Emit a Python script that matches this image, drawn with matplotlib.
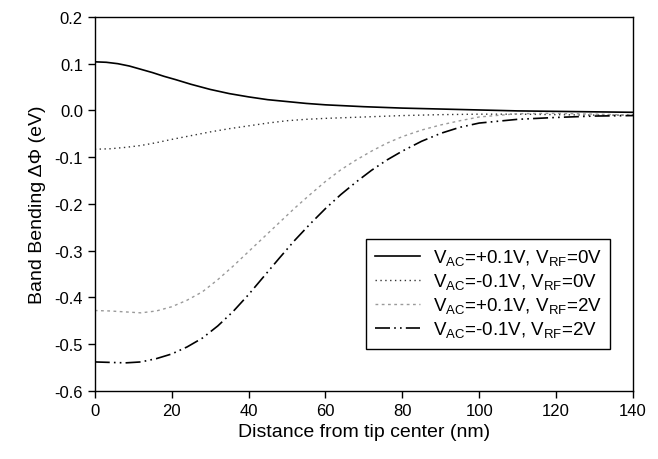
import numpy as np
import matplotlib
matplotlib.use("Agg")
import matplotlib.pyplot as plt

plt.rcParams["font.family"] = ["Liberation Sans", "DejaVu Sans"]
plt.rcParams["mathtext.fontset"] = "custom"
plt.rcParams["mathtext.rm"] = "Liberation Sans"
plt.rcParams["axes.unicode_minus"] = False

# distance from tip center (nm) and band bending (eV)
x_ac_pos = [0, 3, 6, 9, 12, 15, 18, 21, 25, 30, 35, 40, 45, 50, 55, 60, 70, 80, 90, 100,
            110, 120, 130, 140]
y_ac_pos = [0.104, 0.103, 0.100, 0.095, 0.088, 0.081, 0.073, 0.066, 0.056, 0.045, 0.036,
            0.029, 0.023, 0.019, 0.015, 0.012, 0.008, 0.005, 0.003, 0.001, -0.001, -0.002,
            -0.003, -0.004]

x_ac_neg = [0, 4, 8, 12, 16, 20, 25, 30, 35, 40, 45, 50, 55, 60, 70, 80, 90, 100, 110, 120,
            130, 140]
y_ac_neg = [-0.083, -0.082, -0.079, -0.075, -0.069, -0.062, -0.054, -0.046, -0.039, -0.033,
            -0.027, -0.022, -0.019, -0.017, -0.014, -0.011, -0.009, -0.008, -0.008, -0.009,
            -0.010, -0.010]

x_rf_pos = [0, 4, 8, 12, 16, 20, 24, 28, 32, 36, 40, 44, 48, 52, 56, 60, 64, 68, 72, 76,
            80, 85, 90, 95, 100, 110, 120, 130, 140]
y_rf_pos = [-0.428, -0.429, -0.431, -0.433, -0.429, -0.420, -0.406, -0.388, -0.362, -0.333,
            -0.302, -0.271, -0.240, -0.209, -0.180, -0.152, -0.127, -0.106, -0.087, -0.070,
            -0.056, -0.042, -0.031, -0.022, -0.014, -0.007, -0.006, -0.008, -0.010]

x_rf_neg = [0, 4, 8, 12, 16, 20, 24, 28, 32, 36, 40, 44, 48, 52, 56, 60, 64, 68, 72, 76,
            80, 85, 90, 95, 100, 110, 120, 130, 140]
y_rf_neg = [-0.538, -0.539, -0.540, -0.538, -0.531, -0.521, -0.506, -0.487, -0.461, -0.430,
            -0.394, -0.355, -0.316, -0.278, -0.243, -0.210, -0.180, -0.153, -0.128, -0.106,
            -0.087, -0.066, -0.049, -0.036, -0.027, -0.019, -0.015, -0.012, -0.011]

labels = [
    r"V$_{\mathrm{AC}}$=+0.1V, V$_{\mathrm{RF}}$=0V",
    r"V$_{\mathrm{AC}}$=-0.1V, V$_{\mathrm{RF}}$=0V",
    r"V$_{\mathrm{AC}}$=+0.1V, V$_{\mathrm{RF}}$=2V",
    r"V$_{\mathrm{AC}}$=-0.1V, V$_{\mathrm{RF}}$=2V",
]

x_ticks = [0, 20, 40, 60, 80, 100, 120, 140]
y_ticks = [-0.6, -0.5, -0.4, -0.3, -0.2, -0.1, 0.0, 0.1, 0.2]
y_ticklabels = ["-0.6", "-0.5", "-0.4", "-0.3", "-0.2", "-0.1", "0.0", "0.1", "0.2"]

fig = plt.figure(figsize=(6.58, 4.60), dpi=100)
ax = fig.add_axes([0.144, 0.148, 0.818, 0.813])

ax.plot(x_ac_pos, y_ac_pos, color="black", lw=1.2, ls="-", label=labels[0])
ax.plot(x_ac_neg, y_ac_neg, color="#333333", lw=1.0, ls=(0, (1, 2.5)), label=labels[1])
ax.plot(x_rf_pos, y_rf_pos, color="#9a9a9a", lw=1.0, ls=(0, (2, 2.5)), label=labels[2])
ax.plot(x_rf_neg, y_rf_neg, color="black", lw=1.2, ls=(0, (9, 2.5, 1, 2.5, 1, 2.5)), label=labels[3])

ax.set_xlim(0, 140)
ax.set_ylim(-0.6, 0.2)
ax.set_xticks(x_ticks)
ax.set_yticks(y_ticks)
ax.set_yticklabels(y_ticklabels)
ax.tick_params(direction="out", length=5, width=1, labelsize=12, top=False, right=False)
for s in ax.spines.values():
    s.set_linewidth(1.0)

ax.set_xlabel("Distance from tip center (nm)", fontsize=14, labelpad=4)
ax.set_ylabel("Band Bending ΔΦ (eV)", fontsize=14, labelpad=6)

leg = ax.legend(loc="lower right", bbox_to_anchor=(0.975, 0.088), fontsize=13.5,
                frameon=True, fancybox=False, edgecolor="black", framealpha=1,
                handlelength=2.4, handletextpad=0.7, borderpad=0.45, labelspacing=0.2)
leg.get_frame().set_linewidth(1.0)

fig.savefig("out.png", dpi=100)
